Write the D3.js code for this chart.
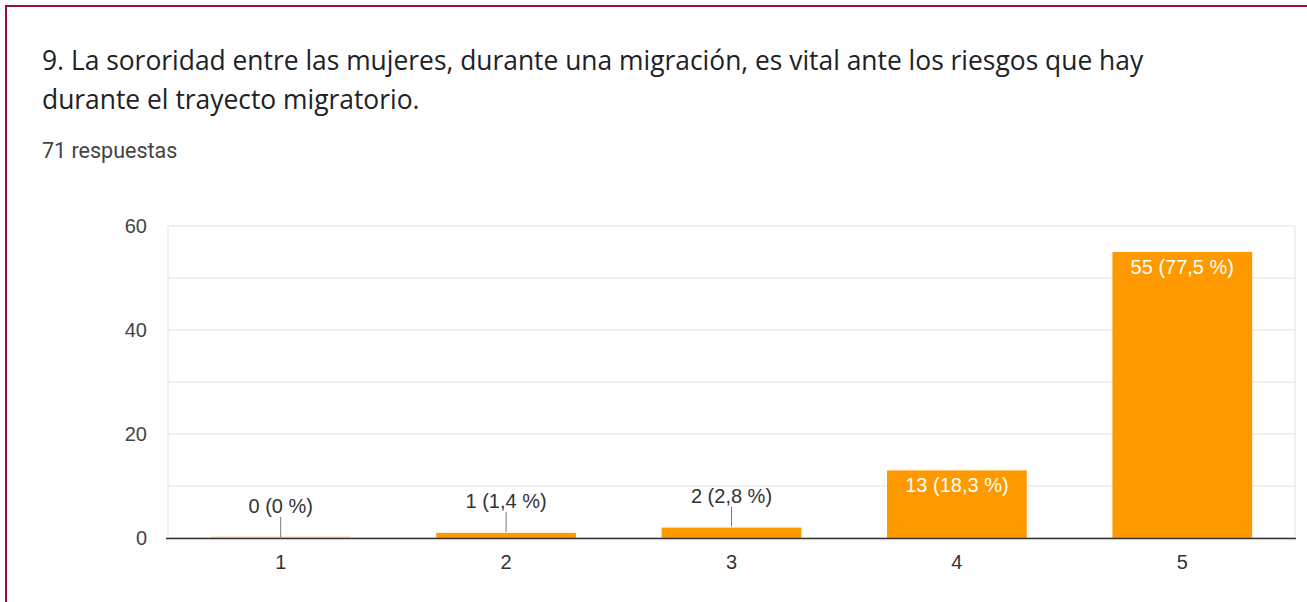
<!DOCTYPE html>
<html lang="es">
<head>
<meta charset="UTF-8">
<title>9 - Sororidad</title>
<script src="https://cdn.jsdelivr.net/npm/d3@7"></script>
<style>
  body { margin: 0; background: #fff; }
  svg { display: block; }
</style>
</head>
<body>
<svg id="chart" width="1307" height="602"></svg>
<script>
// data
const categories = ['1', '2', '3', '4', '5']
const counts = [0, 1, 2, 13, 55]
const percents = ['0 %', '1,4 %', '2,8 %', '18,3 %', '77,5 %']
const yTicks = [0, 20, 40, 60]
const gridTicks = [0, 10, 20, 30, 40, 50, 60]
const titleLines = [
  '9. La sororidad entre las mujeres, durante una migración, es vital ante los riesgos que hay',
  'durante el trayecto migratorio.'
]
const subtitle = '71 respuestas'

const svg = d3.select('#chart')
const W = 1307, H = 602
const labelFont = 'Arial, "Liberation Sans", sans-serif'

// frame
svg.append('rect').attr('width', W).attr('height', H).attr('fill', '#fff')
svg.append('line').attr('x1', 6).attr('x2', 6).attr('y1', 6).attr('y2', H)
  .attr('stroke', '#9b0b3c').attr('stroke-width', 2)
svg.append('line').attr('x1', 5).attr('x2', W).attr('y1', 6).attr('y2', 6)
  .attr('stroke', '#9b0b3c').attr('stroke-width', 2)

// title
svg.selectAll('text.title')
  .data(titleLines)
  .join('text')
  .attr('class', 'title')
  .attr('x', 42)
  .attr('y', (d, i) => 70 + i * 39)
  .attr('font-family', '"Open Sans", Roboto, sans-serif')
  .attr('font-size', 26.4)
  .attr('fill', '#202124')
  .text(d => d)

svg.append('text')
  .attr('x', 42).attr('y', 158)
  .attr('font-family', 'Roboto, Arial, sans-serif')
  .attr('font-size', 21.5)
  .attr('fill', '#444')
  .text(subtitle)

// scales
const x = d3.scaleBand().domain(categories).range([168, 1295]).paddingInner(0.38).paddingOuter(0.19)
const y = d3.scaleLinear().domain([0, 60]).range([538, 226])

// grid
svg.selectAll('line.grid')
  .data(gridTicks)
  .join('line')
  .attr('class', 'grid')
  .attr('x1', 168).attr('x2', 1295)
  .attr('y1', d => y(d)).attr('y2', d => y(d))
  .attr('stroke', '#ececec').attr('stroke-width', 1.5)

svg.append('line').attr('x1', 168).attr('x2', 168).attr('y1', 226).attr('y2', 538)
  .attr('stroke', '#ececec').attr('stroke-width', 1.5)
svg.append('line').attr('x1', 1295).attr('x2', 1295).attr('y1', 226).attr('y2', 538)
  .attr('stroke', '#ececec').attr('stroke-width', 1.5)

// y labels
svg.selectAll('text.ytick')
  .data(yTicks)
  .join('text')
  .attr('class', 'ytick')
  .attr('x', 147)
  .attr('y', d => y(d) + 7)
  .attr('text-anchor', 'end')
  .attr('font-family', labelFont)
  .attr('font-size', 20)
  .attr('fill', '#444')
  .text(d => d)

const data = categories.map((c, i) => ({ c, v: counts[i], p: percents[i] }))

// bars
svg.selectAll('rect.bar')
  .data(data)
  .join('rect')
  .attr('class', 'bar')
  .attr('x', d => x(d.c))
  .attr('width', x.bandwidth())
  .attr('y', d => d.v === 0 ? y(0) - 1.5 : y(d.v))
  .attr('height', d => d.v === 0 ? 1.5 : y(0) - y(d.v))
  .attr('fill', '#ff9900')
  .attr('fill-opacity', d => d.v === 0 ? 0.35 : 1)

// baseline
svg.append('line').attr('x1', 166).attr('x2', 1296).attr('y1', 538.5).attr('y2', 538.5)
  .attr('stroke', '#333').attr('stroke-width', 1.5)

// value labels
const small = data.filter(d => y(0) - y(d.v) < 30)
const big = data.filter(d => y(0) - y(d.v) >= 30)

svg.selectAll('line.leader')
  .data(small)
  .join('line')
  .attr('class', 'leader')
  .attr('x1', d => x(d.c) + x.bandwidth() / 2)
  .attr('x2', d => x(d.c) + x.bandwidth() / 2)
  .attr('y1', d => y(d.v) - 1)
  .attr('y2', d => y(d.v) - 21)
  .attr('stroke', '#777').attr('stroke-width', 1)

svg.selectAll('text.outlbl')
  .data(small)
  .join('text')
  .attr('class', 'outlbl')
  .attr('x', d => x(d.c) + x.bandwidth() / 2)
  .attr('y', d => y(d.v) - 25)
  .attr('text-anchor', 'middle')
  .attr('font-family', labelFont)
  .attr('font-size', 20)
  .attr('fill', '#333')
  .text(d => `${d.v} (${d.p})`)

svg.selectAll('text.inlbl')
  .data(big)
  .join('text')
  .attr('class', 'inlbl')
  .attr('x', d => x(d.c) + x.bandwidth() / 2)
  .attr('y', d => y(d.v) + 22)
  .attr('text-anchor', 'middle')
  .attr('font-family', labelFont)
  .attr('font-size', 20)
  .attr('fill', '#fff')
  .text(d => `${d.v} (${d.p})`)

// x labels
svg.selectAll('text.xtick')
  .data(categories)
  .join('text')
  .attr('class', 'xtick')
  .attr('x', d => x(d) + x.bandwidth() / 2)
  .attr('y', 569)
  .attr('text-anchor', 'middle')
  .attr('font-family', labelFont)
  .attr('font-size', 20)
  .attr('fill', '#333')
  .text(d => d)
</script>
</body>
</html>
